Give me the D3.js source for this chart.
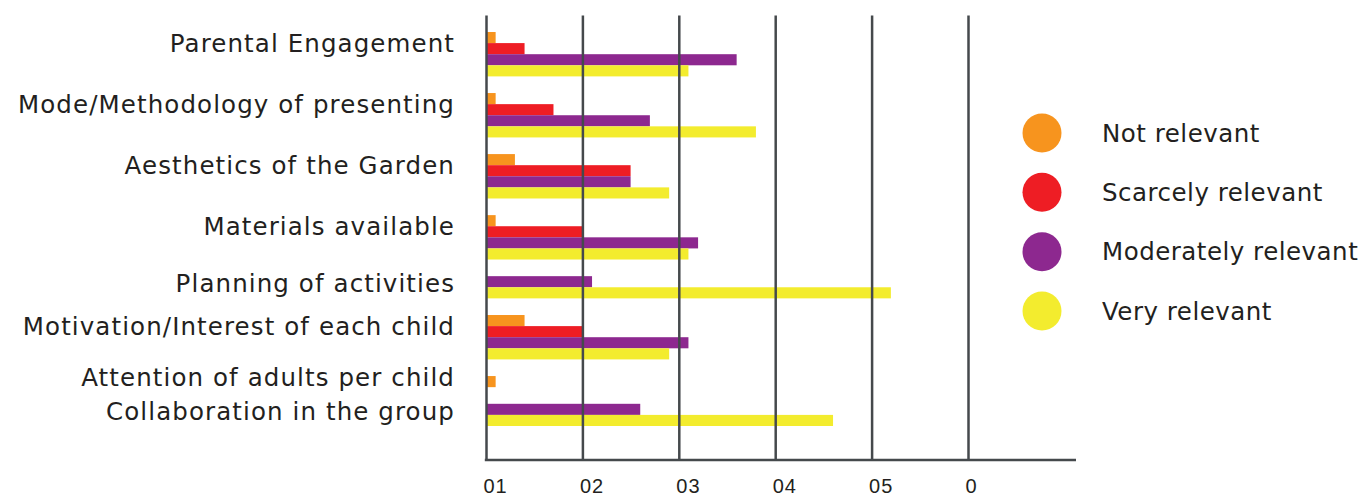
<!DOCTYPE html>
<html>
<head>
<meta charset="utf-8">
<script src="https://cdn.jsdelivr.net/npm/d3@7"></script>
<style>
  html, body { margin: 0; padding: 0; background: #fff; }
  svg { display: block; font-family: "DejaVu Sans", sans-serif; }
</style>
</head>
<body>
<svg width="1366" height="499"></svg>
<script>
// chart values
const categories = [
    "Parental Engagement",
    "Mode/Methodology of presenting",
    "Aesthetics of the Garden",
    "Materials available",
    "Planning of activities",
    "Motivation/Interest of each child",
    "Attention of adults per child",
    "Collaboration in the group"
];
const seriesNames = ["Not relevant", "Scarcely relevant", "Moderately relevant", "Very relevant"];
const notRelevant = [1, 1, 3, 1, 0, 4, 1, 0];
const scarcelyRelevant = [4, 7, 15, 10, 0, 10, 0, 0];
const moderatelyRelevant = [26, 17, 15, 22, 11, 21, 0, 16];
const veryRelevant = [21, 28, 19, 21, 42, 19, 0, 36];
const tickValues = [0, 10, 20, 30, 40, 50];
const tickLabels = ["01", "02", "03", "04", "05", "0"];

const seriesValues = [notRelevant, scarcelyRelevant, moderatelyRelevant, veryRelevant];
const colors = ["#F7941E", "#EE1D24", "#8D288F", "#F3EC2E"];

var svg = d3.select("svg");

var axisY = 460, gridTop = 15.5, plotRight = 1076;

var x = d3.scaleLinear()
    .domain([0, 50])
    .range([486, 968]);

// empty bars are left out, each group is stacked with a gap between groups
let gapUnits = 1.5;
let rows = [], groups = [];
let pos = 0;
categories.forEach((c, i) => {
    if (i > 0) pos += gapUnits;
    let start = pos;
    seriesValues.forEach((vals, j) => {
        if (vals[i] > 0) {
            rows.push({ cat: i, series: j, value: vals[i], pos: pos });
            pos += 1;
        }
    });
    groups.push({ name: c, start: start, end: pos });
});

var y = d3.scaleLinear()
    .domain([0, pos])
    .range([32, 426]);

// bars
svg.append("g")
    .selectAll("rect")
    .data(rows)
    .enter()
    .append("rect")
    .attr("x", x(0))
    .attr("y", d => y(d.pos))
    .attr("width", d => x(d.value) - x(0))
    .attr("height", y(1) - y(0))
    .attr("fill", d => colors[d.series]);

// gridlines + tick labels, drawn over the bars
var axis = svg.append("g")
    .attr("transform", `translate(0,${axisY})`)
    .call(d3.axisBottom(x)
        .tickValues(tickValues)
        .tickSize(-(axisY - gridTop))
        .tickFormat((d, i) => tickLabels[i]));

axis.select(".domain").remove();
axis.selectAll(".tick line")
    .attr("stroke", "#45494C")
    .attr("stroke-width", 2.5);
axis.selectAll(".tick text")
    .attr("text-anchor", "start")
    .attr("x", -3)
    .attr("y", 33)
    .attr("dy", 0)
    .attr("fill", "#231F20")
    .style("font-size", "20px")
    .style("letter-spacing", "1px");

svg.append("line")
    .attr("x1", x(0) - 1.2)
    .attr("x2", plotRight)
    .attr("y1", axisY)
    .attr("y2", axisY)
    .attr("stroke", "#45494C")
    .attr("stroke-width", 2.4);

// category labels, nudged up a little for the bigger groups
svg.append("g")
    .selectAll("text")
    .data(groups)
    .enter()
    .append("text")
    .attr("x", 455)
    .attr("y", d => y((d.start + d.end) / 2) - (d.end - d.start - 1) * 3.5 - (d.end - d.start === 1 ? 4 : 0))
    .attr("dy", "0.35em")
    .attr("text-anchor", "end")
    .attr("fill", "#231F20")
    .style("font-size", "24.5px")
    .style("letter-spacing", "1.1px")
    .text(d => d.name);

// legend
var ly = d3.scalePoint()
    .domain(seriesNames)
    .range([133, 311]);

var legend = svg.append("g")
    .selectAll("g")
    .data(seriesNames)
    .enter()
    .append("g")
    .attr("transform", d => `translate(0,${ly(d)})`);

legend.append("circle")
    .attr("cx", 1042)
    .attr("r", 19.5)
    .attr("fill", (d, i) => colors[i]);

legend.append("text")
    .attr("x", 1102)
    .attr("dy", "0.35em")
    .attr("fill", "#231F20")
    .style("font-size", "24.5px")
    .style("letter-spacing", "0.5px")
    .text(d => d);
</script>
</body>
</html>
